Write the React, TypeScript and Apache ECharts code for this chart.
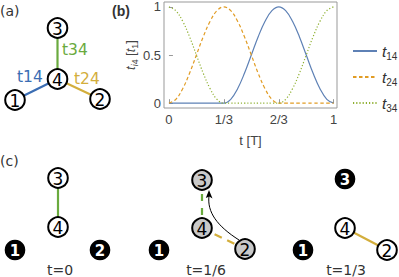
import React, { useEffect, useRef } from "react";
import * as echarts from "echarts";

// time in units of T
const tValues = [0, 0.0417, 0.0833, 0.125, 0.1667, 0.2083, 0.25, 0.2917, 0.3333, 0.375, 0.4167, 0.4583, 0.5, 0.5417, 0.5833, 0.625, 0.6667, 0.7083, 0.75, 0.7917, 0.8333, 0.875, 0.9167, 0.9583, 1];
const t14 = [0, 0, 0, 0, 0, 0, 0, 0, 0, 0.04, 0.15, 0.31, 0.5, 0.69, 0.85, 0.96, 1, 0.96, 0.85, 0.69, 0.5, 0.31, 0.15, 0.04, 0];
const t24 = [0, 0.04, 0.15, 0.31, 0.5, 0.69, 0.85, 0.96, 1, 0.96, 0.85, 0.69, 0.5, 0.31, 0.15, 0.04, 0, 0, 0, 0, 0, 0, 0, 0, 0];
const t34 = [1, 0.96, 0.85, 0.69, 0.5, 0.31, 0.15, 0.04, 0, 0, 0, 0, 0, 0, 0, 0, 0, 0.04, 0.15, 0.31, 0.5, 0.69, 0.85, 0.96, 1];
const seriesNames = ["t14", "t24", "t34"];
const xTickValues = [0, 1 / 3, 2 / 3, 1];
const xTickLabels = ["0", "1/3", "2/3", "1"];
const yTickValues = [0, 0.5, 1];
const yTickLabels = ["0", "0.5", "1"];
const snapshotLabels = ["t=0", "t=1/6", "t=1/3"];

const BLUE = "#3b6db3";
const GOLD = "#d3ae3c";
const GREEN = "#6aaa3e";
const DIG = "DejaVu Sans";

function node(cx: number, cy: number, label: string, kind: "white" | "black" | "gray") {
  const fill = kind === "black" ? "#000" : kind === "gray" ? "#c9c9c9" : "#fff";
  const r = kind === "black" ? 10.3 : 9.8;
  return {
    type: "group",
    z: 10,
    children: [
      {
        type: "circle",
        shape: { cx, cy, r },
        style: { fill, stroke: kind === "black" ? "none" : "#000", lineWidth: 2 },
        z: 10,
      },
      {
        type: "text",
        x: cx,
        y: cy + 0.5,
        z: 11,
        style: {
          text: label,
          fill: kind === "black" ? "#fff" : "#000",
          font: `${kind === "black" ? "bold " : ""}${kind === "black" ? 15 : 17}px "${DIG}"`,
          align: "center",
          verticalAlign: "middle",
        },
      },
    ],
  };
}

function edge(x1: number, y1: number, x2: number, y2: number, color: string, dash?: number[]) {
  return {
    type: "line",
    z: 5,
    shape: { x1, y1, x2, y2 },
    style: { stroke: color, lineWidth: 2.2, lineDash: dash || null },
  };
}

function txt(x: number, y: number, text: string, fill: string, font: string, align = "left") {
  return { type: "text", x, y, z: 12, style: { text, fill, font, align, verticalAlign: "middle" } };
}

export default function App() {
  const ref = useRef<HTMLDivElement>(null);
  useEffect(() => {
    if (!ref.current) return;
    const chart = echarts.init(ref.current, undefined, { renderer: "svg" });
    const mk = (arr: number[]) => tValues.map((t, i) => [t, arr[i]]);
    const rich = {
      i: { fontFamily: "Liberation Sans", fontStyle: "italic", fontSize: 15.5, lineHeight: 20, color: "#333" },
      s: { fontFamily: "Liberation Sans", fontSize: 10, lineHeight: 10, verticalAlign: "bottom", color: "#333" },
    };
    const yRich = {
      i: { fontFamily: "Liberation Sans", fontStyle: "italic", fontSize: 13, lineHeight: 18, color: "#444" },
      s: { fontFamily: "Liberation Sans", fontStyle: "italic", fontSize: 9, lineHeight: 9, verticalAlign: "bottom", color: "#444" },
      n: { fontFamily: "Liberation Sans", fontSize: 9, lineHeight: 9, verticalAlign: "bottom", color: "#444" },
      r: { fontFamily: "Liberation Sans", fontSize: 13, lineHeight: 18, color: "#444" },
    };
    chart.setOption({
      animation: false,
      grid: { left: 164, top: 2, width: 173, height: 106, show: true, borderColor: "#999", borderWidth: 1, backgroundColor: "transparent" },
      xAxis: {
        type: "value",
        min: -0.03,
        max: 1.02,
        name: "t [T]",
        nameLocation: "middle",
        nameGap: 26,
        nameTextStyle: { fontFamily: "Liberation Sans", fontSize: 13, color: "#444" },
        axisLine: { show: false },
        splitLine: { show: false },
        axisTick: { inside: true, length: 4, customValues: xTickValues, lineStyle: { color: "#999" } },
        axisLabel: {
          customValues: xTickValues,
          margin: 5,
          fontFamily: "Liberation Sans",
          fontSize: 13,
          color: "#444",
          formatter: (v: number) => {
            const idx = xTickValues.findIndex((t) => Math.abs(t - v) < 1e-6);
            return idx >= 0 ? xTickLabels[idx] : "";
          },
        },
      },
      yAxis: {
        type: "value",
        min: -0.05,
        max: 1.05,
        name: "{i|t}{s|i}{n|4} {r|[}{i|t}{n|1}{r|]}",
        nameLocation: "middle",
        nameRotate: 90,
        nameGap: 20,
        nameTextStyle: { rich: yRich },
        axisLine: { show: false },
        splitLine: { show: false },
        axisTick: { inside: true, length: 4, customValues: yTickValues, lineStyle: { color: "#999" } },
        axisLabel: {
          customValues: yTickValues,
          margin: 3,
          fontFamily: "Liberation Sans",
          fontSize: 13,
          color: "#444",
          formatter: (v: number) => {
            const idx = yTickValues.findIndex((t) => Math.abs(t - v) < 1e-6);
            return idx >= 0 ? yTickLabels[idx] : "";
          },
        },
      },
      legend: {
        orient: "vertical",
        left: 347,
        top: 38,
        itemWidth: 24,
        itemHeight: 10,
        itemGap: 8,
        data: seriesNames,
        itemStyle: { color: "transparent", borderWidth: 0, opacity: 0 },
        formatter: (name: string) => `{i|t}{s|${name.slice(1)}}`,
        textStyle: { rich },
      },
      series: [
        { name: seriesNames[0], type: "line", data: mk(t14), smooth: 0.4, symbol: "none", color: "#5e81b5", lineStyle: { width: 1.2, color: "#5e81b5" } },
        { name: seriesNames[1], type: "line", data: mk(t24), smooth: 0.4, symbol: "none", color: "#e19c24", lineStyle: { width: 1.2, color: "#e19c24", type: [3.5, 2.5] } },
        { name: seriesNames[2], type: "line", data: mk(t34), smooth: 0.4, symbol: "none", color: "#8fb032", lineStyle: { width: 1.2, color: "#8fb032", type: [1.2, 2] } },
      ],
      graphic: [
        // panel labels
        txt(0, 11, "(a)", "#333", `14px "${DIG}"`),
        txt(112, 11, "(b)", "#333", `bold 14px "Liberation Sans"`),
        txt(0, 161, "(c)", "#333", `14px "${DIG}"`),
        // (a) star graph
        edge(57.5, 28, 57.5, 79, GREEN),
        edge(15, 100, 57.5, 79, BLUE),
        edge(100, 99, 57.5, 79, GOLD),
        node(57.5, 28, "3", "white"),
        node(57.5, 79, "4", "white"),
        node(15, 100, "1", "white"),
        node(100, 99, "2", "white"),
        txt(62, 50, "t34", GREEN, `15.5px "${DIG}"`),
        txt(17, 77, "t14", BLUE, `15.5px "${DIG}"`),
        txt(74, 79, "t24", GOLD, `15.5px "${DIG}"`),
        // (c) t=0
        edge(58, 178, 58, 227, GREEN),
        node(58, 178, "3", "white"),
        node(58, 227, "4", "white"),
        node(15, 250, "1", "black"),
        node(100, 250, "2", "black"),
        txt(60, 270, snapshotLabels[0], "#333", `14px "${DIG}"`, "center"),
        // (c) t=1/6
        edge(202, 180, 202, 228, GREEN, [7, 7]),
        edge(202, 228, 245, 249, GOLD, [8, 6]),
        node(202, 180, "3", "gray"),
        node(202, 228, "4", "gray"),
        node(159, 250, "1", "black"),
        node(245, 249, "2", "gray"),
        {
          type: "bezierCurve",
          z: 13,
          shape: { x1: 239, y1: 240, cpx1: 217, cpy1: 226, cpx2: 207, cpy2: 212, x2: 209, y2: 196 },
          style: { stroke: "#000", lineWidth: 1, fill: "none" },
        },
        {
          type: "polygon",
          z: 13,
          shape: { points: [[209, 190], [212.5, 198.5], [209.3, 196.5], [205.8, 198]] },
          style: { fill: "#000" },
        },
        txt(206, 270, snapshotLabels[1], "#333", `14px "${DIG}"`, "center"),
        // (c) t=1/3
        edge(345, 228, 387, 250, GOLD),
        node(345, 179, "3", "black"),
        node(345, 228, "4", "white"),
        node(303, 250, "1", "black"),
        node(387, 250, "2", "white"),
        txt(346, 270, snapshotLabels[2], "#333", `14px "${DIG}"`, "center"),
      ],
    });
    return () => chart.dispose();
  }, []);
  return <div ref={ref} style={{ position: "absolute", left: 0, top: 0, width: 399, height: 277 }} />;
}
